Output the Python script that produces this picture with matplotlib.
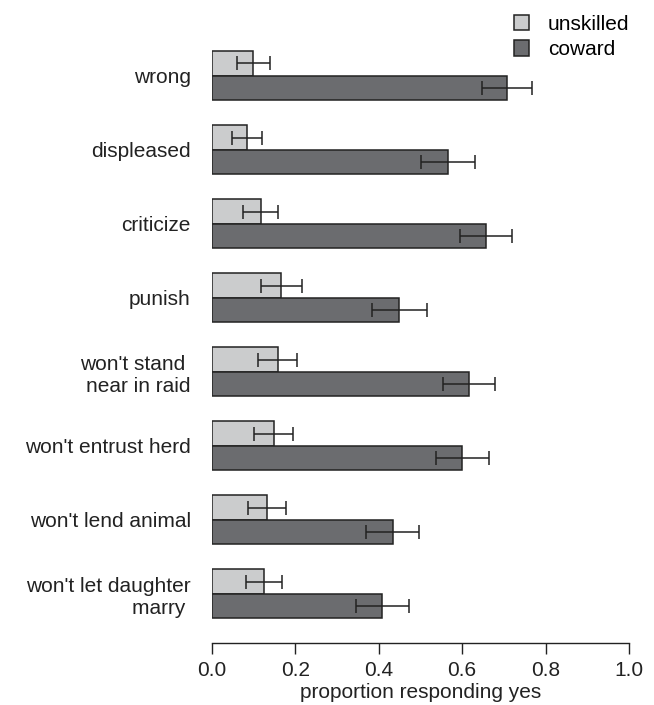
import numpy as np
from matplotlib import pyplot as plt
from matplotlib.patches import Patch

plt.rcParams['font.family'] = ['Liberation Sans', 'DejaVu Sans']

categories = ["wrong", "displeased", "criticize", "punish",
              "won't stand \nnear in raid", "won't entrust herd",
              "won't lend animal", "won't let daughter\nmarry "]

unskilled = [0.100, 0.084, 0.117, 0.167, 0.158, 0.149, 0.133, 0.125]
unskilled_err = [0.040, 0.036, 0.043, 0.049, 0.047, 0.047, 0.045, 0.043]

coward = [0.708, 0.567, 0.657, 0.450, 0.617, 0.601, 0.434, 0.409]
coward_err = [0.059, 0.065, 0.062, 0.065, 0.063, 0.064, 0.064, 0.064]

light = '#cbcccd'
dark = '#6b6c6f'
edge = '#222222'

fig = plt.figure(figsize=(6.54, 7.05), dpi=100)
ax = fig.add_axes([0.3237, 0.0879, 0.638, 0.8572])

y = np.arange(len(categories))
h = 0.33
ax.barh(y - h / 2, unskilled, height=h, color=light, edgecolor=edge, linewidth=1.1,
        xerr=unskilled_err, error_kw=dict(ecolor=edge, elinewidth=1.1, capsize=4.7, capthick=1.1))
ax.barh(y + h / 2, coward, height=h, color=dark, edgecolor=edge, linewidth=1.1,
        xerr=coward_err, error_kw=dict(ecolor=edge, elinewidth=1.1, capsize=4.7, capthick=1.1))

ax.set_xlim(0, 1.0)
ax.set_ylim(7.666, -0.5)
ax.set_yticks(y)
ax.set_yticklabels(categories, fontsize=15, color='#222222', multialignment='right')
ax.tick_params(axis='y', length=0, pad=15)
ax.set_xticks([0, 0.2, 0.4, 0.6, 0.8, 1.0])
ax.set_xticklabels(['0.0', '0.2', '0.4', '0.6', '0.8', '1.0'], fontsize=15, color='#222222')
ax.tick_params(axis='x', length=8, width=1, color=edge, pad=5)
ax.set_xlabel('proportion responding yes', fontsize=15, color='#222222', labelpad=2)

for s in ['top', 'right', 'left']:
    ax.spines[s].set_visible(False)
ax.spines['bottom'].set_color(edge)
ax.spines['bottom'].set_linewidth(1)

handles = [Patch(facecolor=light, edgecolor=edge, linewidth=1.1, label='unskilled'),
           Patch(facecolor=dark, edgecolor=edge, linewidth=1.1, label='coward')]
fig.legend(handles=handles, loc='upper left', bbox_to_anchor=(0.763, 1.0),
           frameon=False, fontsize=15, handlelength=0.75, handleheight=0.75,
           handletextpad=0.9, labelspacing=0.32, borderaxespad=0.3)

fig.savefig('out.png', dpi=100)
